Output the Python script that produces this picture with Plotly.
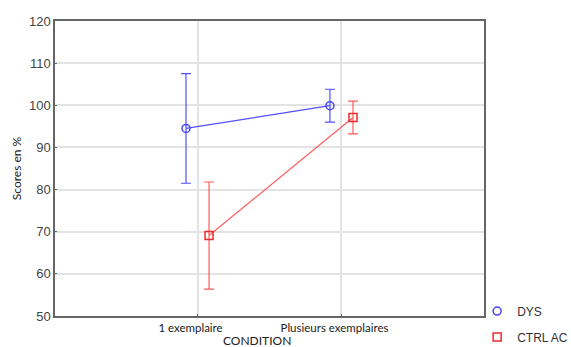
import plotly.graph_objects as go

# Conditions on the x axis
conditions = ["1 exemplaire", "Plusieurs exemplaires"]

# Group means (%) and error half-widths
dys_means = [94.5, 99.9]
dys_err = [13.0, 3.9]
ctrl_means = [69.1, 97.1]
ctrl_err = [12.7, 3.9]

y_ticks = [50, 60, 70, 80, 90, 100, 110, 120]

# small horizontal offset so the two groups don't overlap
offset = 0.08
xpos = list(range(len(conditions)))

BLUE_LINE = "rgb(80,80,255)"
BLUE_MARK = "rgb(70,70,255)"
RED_LINE = "rgb(255,90,90)"
RED_MARK = "rgb(240,40,40)"

fig = go.Figure()

fig.add_trace(go.Scatter(
    x=[p - offset for p in xpos], y=dys_means, name="DYS",
    mode="lines+markers", showlegend=False,
    line=dict(color=BLUE_LINE, width=1.2),
    marker=dict(symbol="circle-open", size=8, color=BLUE_MARK, line=dict(width=1.5)),
    error_y=dict(type="data", array=dys_err, color=BLUE_LINE, thickness=1.2, width=5),
))
fig.add_trace(go.Scatter(
    x=[p + offset for p in xpos], y=ctrl_means, name="CTRL AC",
    mode="lines+markers", showlegend=False,
    line=dict(color=RED_LINE, width=1.2),
    marker=dict(symbol="square-open", size=8, color=RED_MARK, line=dict(width=1.5)),
    error_y=dict(type="data", array=ctrl_err, color=RED_LINE, thickness=1.2, width=5),
))

# compact legend entries (marker only)
fig.add_trace(go.Scatter(
    x=[None], y=[None], name="DYS", mode="markers", legendgroup="a",
    marker=dict(symbol="circle-open", size=8, color=BLUE_MARK, line=dict(width=1.5)),
))
fig.add_trace(go.Scatter(
    x=[None], y=[None], name="CTRL AC", mode="markers", legendgroup="b",
    marker=dict(symbol="square-open", size=8, color=RED_MARK, line=dict(width=1.5)),
))

fig.update_layout(
    width=571, height=347,
    margin=dict(l=55, r=87, t=21, b=31, autoexpand=False),
    paper_bgcolor="white", plot_bgcolor="white",
    font=dict(family="Liberation Sans, Arial, sans-serif", color="#444"),
    legend=dict(
        x=0.984, xanchor="left", y=0.066, yanchor="top",
        font=dict(size=12, color="#333"),
        traceorder="grouped", tracegroupgap=7,
        bgcolor="rgba(0,0,0,0)", itemwidth=30,
    ),
    xaxis=dict(
        range=[-0.99, 1.99],
        tickmode="array", tickvals=xpos, ticktext=conditions,
        tickfont=dict(family="Lato, sans-serif", size=11.5, color="#222"),
        ticklabelshift=-7,
        showgrid=True, gridcolor="#e3e3e3", gridwidth=1.5,
        showline=True, linecolor="#666", linewidth=1.5, mirror=True,
        ticks="inside", ticklen=2, tickcolor="#666",
        zeroline=False,
    ),
    yaxis=dict(
        range=[50, 120],
        tickmode="array", tickvals=y_ticks,
        tickfont=dict(size=13, color="#444"),
        showgrid=True, gridcolor="#e3e3e3", gridwidth=1.5,
        showline=True, linecolor="#666", linewidth=1.5, mirror=True,
        ticks="inside", ticklen=2, tickcolor="#666",
        zeroline=False,
        title=dict(text="Scores en %", font=dict(family="Lato, sans-serif", size=12, color="#222"), standoff=5),
    ),
    annotations=[dict(
        text="CONDITION", xref="paper", yref="paper", x=0.47, y=0,
        xanchor="center", yanchor="middle", yshift=-24, showarrow=False,
        font=dict(family="Lato, sans-serif", size=12, color="#222"),
    )],
)

fig.write_html("out.html")
